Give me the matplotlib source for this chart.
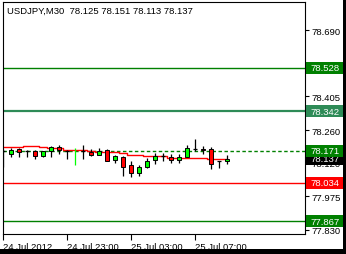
import matplotlib
matplotlib.use("Agg")
import matplotlib.pyplot as plt
import matplotlib.transforms as mtransforms
from matplotlib.patches import Rectangle

plt.rcParams["font.family"] = ["Liberation Sans", "DejaVu Sans"]
plt.rcParams["font.size"] = 6.8

# chart data (bar index 0 = 24 Jul 19:00, M30)
symbol = "USDJPY,M30"
last_ohlc = [78.125, 78.151, 78.113, 78.137]

opens = [78.170, 78.156, 78.177, 78.168, 78.170, 78.147, 78.168, 78.187, 78.171, 78.160,
         78.170, 78.167, 78.152, 78.173, 78.131, 78.143, 78.108, 78.077, 78.103, 78.133,
         78.147, 78.146, 78.132, 78.143, 78.177, 78.178, 78.178, 78.126, 78.125]
highs = [78.179, 78.184, 78.182, 78.176, 78.176, 78.171, 78.192, 78.195, 78.176, 78.183,
         78.197, 78.179, 78.183, 78.177, 78.154, 78.148, 78.125, 78.108, 78.140, 78.163,
         78.162, 78.156, 78.157, 78.194, 78.223, 78.192, 78.186, 78.128, 78.151]
lows = [78.101, 78.142, 78.144, 78.144, 78.136, 78.146, 78.146, 78.159, 78.136, 78.110,
        78.134, 78.150, 78.152, 78.128, 78.120, 78.064, 78.056, 78.064, 78.095, 78.116,
        78.128, 78.120, 78.117, 78.143, 78.171, 78.157, 78.091, 78.095, 78.113]
closes = [78.170, 78.176, 78.164, 78.168, 78.150, 78.168, 78.189, 78.174, 78.171, 78.160,
          78.170, 78.152, 78.172, 78.128, 78.148, 78.101, 78.077, 78.103, 78.129, 78.147,
          78.147, 78.132, 78.146, 78.183, 78.177, 78.173, 78.114, 78.126, 78.137]
moving_avg = [78.186, 78.186, 78.186, 78.190, 78.190, 78.186, 78.182, 78.182, 78.176, 78.176,
              78.176, 78.171, 78.167, 78.167, 78.167, 78.161, 78.154, 78.151, 78.147, 78.147,
              78.147, 78.140, 78.140, 78.140, 78.140, 78.140, 78.134, 78.134, 78.134]
lime_wick_bars = [9]

levels = [78.528, 78.342, 78.171, 78.034, 77.867]
bid = 78.137

ytick_values = [78.690, 78.545, 78.405, 78.260, 78.120, 77.975, 77.830]
xtick_bars = [0, 8, 16, 24]
xtick_labels = ["24 Jul 2012", "24 Jul 23:00", "25 Jul 03:00", "25 Jul 07:00"]

# styles
level_colors = ["#008000", "#2e8b57", "#008000", "#ff0000", "#008000"]
level_styles = ["-", "-", (0, (2.5, 1.8)), "-", "-"]
level_widths = [1.0, 1.6, 1.0, 1.0, 1.0]

W, H = 346, 255
fig = plt.figure(figsize=(W / 100, H / 100), dpi=100)
fig.patch.set_facecolor("white")
ax = fig.add_axes([2.5 / W, (H - 234.5) / H, 302 / W, 232 / H])
ax.set_xlim(-0.06, 37.7)
ax.set_ylim(77.8144, 78.8144)
px_per_unit = 232 / 1.0

for sp in ax.spines.values():
    sp.set_color("black")
    sp.set_linewidth(0.8)

# levels
for lv, c, ls, lw in zip(levels, level_colors, level_styles, level_widths):
    ax.axhline(lv, color=c, linestyle=ls, linewidth=lw, zorder=1)

# moving average
ax.plot(range(len(moving_avg)), moving_avg, color="red", linewidth=1.0,
        drawstyle="steps-mid", zorder=2)

# candles
bw = 0.56
for i, (o, h, l, c) in enumerate(zip(opens, highs, lows, closes)):
    if i in lime_wick_bars:
        ax.vlines(i, l, h, color="#00ff00", linewidth=0.9, zorder=3)
        continue
    ax.vlines(i, l, h, color="black", linewidth=0.9, zorder=3)
    if o == c:
        ax.hlines(o, i - bw / 2, i + bw / 2, color="black", linewidth=0.9, zorder=4)
    else:
        fc = "#00ff00" if c > o else "#ff0000"
        ax.add_patch(Rectangle((i - bw / 2, min(o, c)), bw, abs(c - o),
                               facecolor=fc, edgecolor="black", linewidth=0.7, zorder=4))

# axes ticks
ax.yaxis.tick_right()
ax.set_yticks(ytick_values)
ax.set_yticklabels([f"{v:.3f}" for v in ytick_values])
ax.tick_params(axis="y", length=3, width=0.8, pad=2, labelsize=6.8)
ax.set_xticks(xtick_bars)
ax.set_xticklabels(xtick_labels)
ax.tick_params(axis="x", length=4, width=0.8, pad=2, labelsize=6.8)
for lbl in ax.get_xticklabels():
    lbl.set_ha("left")

# price labels on the right scale
trans = mtransforms.blended_transform_factory(ax.transAxes, ax.transData)
box_h = 12 / px_per_unit
box_items = [(bid, "black", 6)] + [(lv, c, 7) for lv, c in zip(levels, level_colors)]
for val, c, z in box_items:
    ax.add_patch(Rectangle((1 + 1.5 / 302, val - box_h / 2), 0.15, box_h, transform=trans,
                           facecolor=c, edgecolor="none", clip_on=False, zorder=z))
    ax.text(1 + 5.5 / 302, val, f"{val:.3f}", transform=trans, color="white",
            va="center", ha="left", fontsize=6.8, clip_on=False, zorder=z + 0.5)

# header
fig.text(7 / W, 1 - 11 / H, f"{symbol}  " + " ".join(f"{v:.3f}" for v in last_ohlc),
         va="center", ha="left", fontsize=6.8, color="black")

# window frame on right and bottom
fig.add_artist(Rectangle((343 / W, 0), 3 / W, 1, transform=fig.transFigure,
                         facecolor="black", edgecolor="none", zorder=20))
fig.add_artist(Rectangle((0, 0), 1, 5 / H, transform=fig.transFigure,
                         facecolor="black", edgecolor="none", zorder=20))

fig.savefig("out.png", dpi=100)
